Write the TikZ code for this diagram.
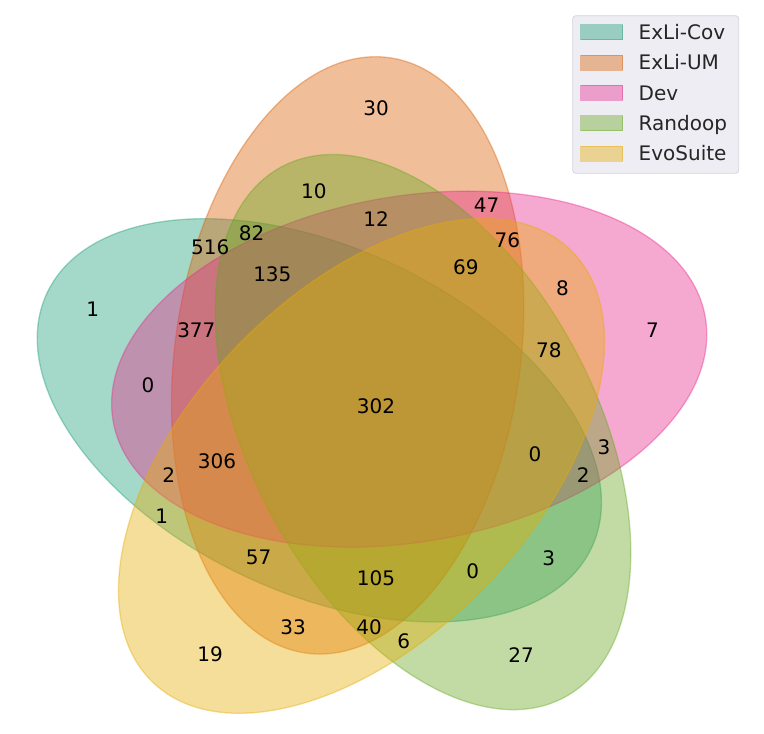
\documentclass[tikz,border=0pt]{standalone}
\usepackage{fontspec}
\setmainfont{DejaVu Sans}
\definecolor{cteal}{HTML}{1B9E77}
\definecolor{corange}{HTML}{D95F02}
\definecolor{cpink}{HTML}{E7298A}
\definecolor{cgreen}{HTML}{66A61E}
\definecolor{cyellow}{HTML}{E6AB02}
\definecolor{legbg}{RGB}{237,237,243}
\definecolor{legedge}{RGB}{214,214,220}
\definecolor{legtext}{HTML}{262626}
\tikzset{
  ell/.style={line width=1.3pt, fill opacity=0.4, draw opacity=0.4},
  num/.style={font=\fontsize{20}{24}\selectfont, text=black, inner sep=0pt, anchor=center},
  legpatch/.style={line width=1.3pt, fill opacity=0.4, draw opacity=0.4},
  legtxt/.style={font=\fontsize{20}{24}\selectfont, text=legtext, inner sep=0pt, anchor=base west},
}
\begin{document}
\begin{tikzpicture}[x=691pt,y=691pt]
\useasboundingbox (-0.03415,-0.00492) rectangle (1.0715,1.05731);
% centres
\coordinate (c0) at (0.428,0.449);
\coordinate (c1) at (0.469,0.543);
\coordinate (c2) at (0.558,0.523);
\coordinate (c3) at (0.578,0.432);
\coordinate (c4) at (0.489,0.383);
% ellipses
\draw[ell, fill=cteal, draw=cteal, rotate around={155:(c0)}] (c0) ellipse [x radius=0.435, y radius=0.25];
\draw[ell, fill=corange, draw=corange, rotate around={82:(c1)}] (c1) ellipse [x radius=0.435, y radius=0.25];
\draw[ell, fill=cpink, draw=cpink, rotate around={10:(c2)}] (c2) ellipse [x radius=0.435, y radius=0.25];
\draw[ell, fill=cgreen, draw=cgreen, rotate around={118:(c3)}] (c3) ellipse [x radius=0.435, y radius=0.25];
\draw[ell, fill=cyellow, draw=cyellow, rotate around={46:(c4)}] (c4) ellipse [x radius=0.435, y radius=0.25];
% counts
\node[num] (r00001) at (0.27,0.11) {19};
\node[num] (r00010) at (0.72,0.11) {27};
\node[num] (r00011) at (0.55,0.13) {6};
\node[num] (r00100) at (0.91,0.58) {7};
\node[num] (r00101) at (0.78,0.64) {8};
\node[num] (r00110) at (0.84,0.41) {3};
\node[num] (r00111) at (0.76,0.55) {78};
\node[num] (r01000) at (0.51,0.90) {30};
\node[num] (r01001) at (0.39,0.15) {33};
\node[num] (r01010) at (0.42,0.78) {10};
\node[num] (r01011) at (0.50,0.15) {40};
\node[num] (r01100) at (0.67,0.76) {47};
\node[num] (r01101) at (0.70,0.71) {76};
\node[num] (r01110) at (0.51,0.74) {12};
\node[num] (r01111) at (0.64,0.67) {69};
\node[num] (r10000) at (0.10,0.61) {1};
\node[num] (r10001) at (0.20,0.31) {1};
\node[num] (r10010) at (0.76,0.25) {3};
\node[num] (r10011) at (0.65,0.23) {0};
\node[num] (r10100) at (0.18,0.50) {0};
\node[num] (r10101) at (0.21,0.37) {2};
\node[num] (r10110) at (0.81,0.37) {2};
\node[num] (r10111) at (0.74,0.40) {0};
\node[num] (r11000) at (0.27,0.70) {516};
\node[num] (r11001) at (0.34,0.25) {57};
\node[num] (r11010) at (0.33,0.72) {82};
\node[num] (r11011) at (0.51,0.22) {105};
\node[num] (r11100) at (0.25,0.58) {377};
\node[num] (r11101) at (0.28,0.39) {306};
\node[num] (r11110) at (0.36,0.66) {135};
\node[num] (r11111) at (0.51,0.47) {302};
% legend (pixel coordinates, origin top-left)
\begin{scope}[shift={(-0.03415,1.05731)}, x=1pt, y=-1pt]
  \draw[fill=legbg, draw=legedge, line width=0.8pt, rounded corners=3pt] (572.7,15.7) rectangle (738.7,173.3);
  \draw[legpatch, fill=cteal, draw=cteal] (580.7,24.8) rectangle (622.7,39.8);
  \node[legtxt] (l0) at (638.5,39.6) {ExLi-Cov};
  \draw[legpatch, fill=corange, draw=corange] (580.7,55.2) rectangle (622.7,70.2);
  \node[legtxt] (l1) at (638.5,70.0) {ExLi-UM};
  \draw[legpatch, fill=cpink, draw=cpink] (580.7,85.5) rectangle (622.7,100.5);
  \node[legtxt] (l2) at (638.5,100.3) {Dev};
  \draw[legpatch, fill=cgreen, draw=cgreen] (580.7,115.8) rectangle (622.7,130.8);
  \node[legtxt] (l3) at (638.5,130.6) {Randoop};
  \draw[legpatch, fill=cyellow, draw=cyellow] (580.7,146.2) rectangle (622.7,161.2);
  \node[legtxt] (l4) at (638.5,161.0) {EvoSuite};
\end{scope}
\end{tikzpicture}
\end{document}
